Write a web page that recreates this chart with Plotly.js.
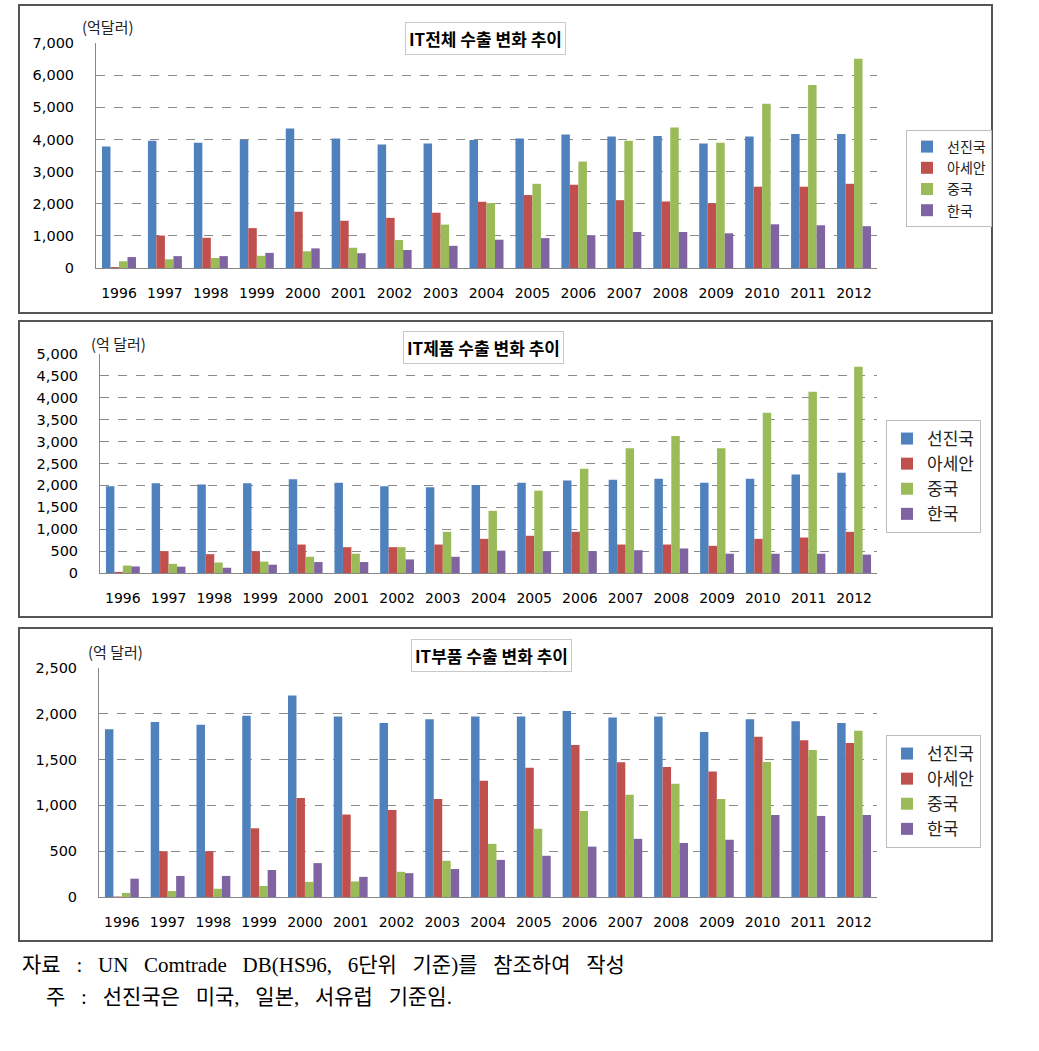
<!DOCTYPE html>
<html>
<head>
<meta charset="utf-8">
<script src="https://cdn.plot.ly/plotly-3.0.1.min.js"></script>
<style>html,body{margin:0;padding:0;background:#fff;}#chart{width:1039px;height:1051px;}</style>
</head>
<body>
<div id="chart"></div>
<script>
// ---- data ----
const years = ['1996','1997','1998','1999','2000','2001','2002','2003','2004','2005','2006','2007','2008','2009','2010','2011','2012'];
const seriesNames = ['선진국','아세안','중국','한국'];
const seriesColors = ['#4F81BD','#C0504D','#9BBB59','#8064A2'];

const totalAdvanced = [3780,3960,3900,3990,4340,4030,3840,3870,3980,4030,4150,4090,4110,3870,4090,4170,4170];
const totalAsean    = [30,1010,940,1240,1750,1470,1560,1720,2060,2270,2590,2110,2070,2010,2530,2530,2620];
const totalChina    = [210,270,310,380,520,630,870,1350,2020,2620,3310,3960,4370,3900,5110,5690,6510];
const totalKorea    = [340,370,370,470,610,460,560,690,880,930,1020,1120,1120,1080,1360,1330,1300];

const productAdvanced = [1980,2050,2020,2050,2140,2060,1980,1960,2010,2060,2110,2130,2150,2060,2150,2250,2290];
const productAsean    = [25,500,430,500,650,590,590,650,780,850,940,650,650,620,780,810,940];
const productChina    = [170,210,240,260,370,440,590,940,1420,1880,2380,2850,3130,2850,3660,4140,4710];
const productKorea    = [150,145,120,190,250,250,310,370,510,500,500,520,560,440,440,440,420];

const partAdvanced = [1830,1910,1880,1980,2200,1970,1900,1940,1970,1970,2030,1960,1970,1800,1940,1920,1900];
const partAsean    = [5,500,500,750,1080,900,950,1070,1270,1410,1660,1470,1420,1370,1750,1710,1680];
const partChina    = [45,65,90,120,165,170,275,395,580,745,940,1115,1235,1070,1475,1605,1815];
const partKorea    = [200,230,230,295,370,220,260,305,405,450,550,635,590,625,895,885,895];

const panelTitles = ['IT전체 수출 변화 추이','IT제품 수출 변화 추이','IT부품 수출 변화 추이'];
const unitLabels = ['(억달러)','(억 달러)','(억 달러)'];
const yRanges = [[0,7000],[0,5000],[0,2500]];
const yDticks = [1000,500,500];
const noteLines = ['자료 : UN Comtrade DB(HS96, 6단위 기준)를 참조하여 작성','주 : 선진국은 미국, 일본, 서유럽 기준임.'];

// ---- layout helpers (pixel -> paper) ----
const W = 1039, H = 1051;
const px = x => x / W;
const py = y => 1 - y / H;
const wide = s => s.split(' ').join('&nbsp;&nbsp;&nbsp;');

const panelData = [
  [totalAdvanced,totalAsean,totalChina,totalKorea],
  [productAdvanced,productAsean,productChina,productKorea],
  [partAdvanced,partAsean,partChina,partKorea]
];
const plotBoxes = [
  {l:96, r:877, t:43, b:268},
  {l:100, r:877, t:354, b:573},
  {l:99, r:877, t:668, b:897}
];
const frames = [
  {l:19, r:992, t:5, b:313},
  {l:19, r:992, t:321, b:617},
  {l:19, r:992, t:628, b:941}
];
const legendPos = [
  {x:906, y:130, size:14},
  {x:886, y:420, size:17},
  {x:886, y:735, size:17}
];
const titlePos = [{x:485,y:38},{x:483,y:347},{x:491,y:655}];
const unitPos = [{x:80,y:27},{x:89,y:343},{x:86,y:651}];

const tickFont = {family:'DejaVu Sans, Noto Sans CJK KR', size:14, color:'#000'};

const traces = [];
const layout = {
  width: W, height: H,
  margin: {l:0,r:0,t:0,b:0},
  paper_bgcolor: '#fff', plot_bgcolor: '#fff',
  barmode: 'group', bargap: 0.26, bargroupgap: 0,
  shapes: [], annotations: []
};

for (let p = 0; p < 3; p++) {
  const sfx = p === 0 ? '' : String(p + 1);
  const xa = 'x' + sfx, ya = 'y' + sfx, lg = 'legend' + sfx;
  for (let s = 0; s < 4; s++) {
    traces.push({
      type: 'bar', x: years, y: panelData[p][s], name: seriesNames[s],
      marker: {color: seriesColors[s], line: {width: 0}},
      xaxis: xa, yaxis: ya, legend: lg, hoverinfo: 'skip'
    });
  }
  const b = plotBoxes[p];
  layout['xaxis' + sfx] = {
    domain: [px(b.l), px(b.r)], anchor: ya, type: 'category',
    showline: true, linecolor: '#888', linewidth: 1,
    showgrid: false, ticks: '', tickfont: tickFont, ticklabelstandoff: 12,
    fixedrange: true
  };
  layout['yaxis' + sfx] = {
    domain: [py(b.b), py(b.t)], anchor: xa, range: yRanges[p], dtick: yDticks[p],
    tickformat: ',d', showline: true, linecolor: '#888', linewidth: 1,
    showgrid: true, gridcolor: '#8a8a8a', griddash: 'dash', gridwidth: 1,
    zeroline: false, ticks: '', tickfont: {family:'DejaVu Sans, Noto Sans CJK KR', size:14.5, color:'#000'},
    ticklabelstandoff: 18, fixedrange: true
  };
  const L = legendPos[p];
  layout[lg] = {
    x: px(L.x), y: py(L.y), xanchor: 'left', yanchor: 'top',
    xref: 'paper', yref: 'paper',
    bgcolor: '#fff', bordercolor: '#bdbdbd', borderwidth: 1,
    font: {family:'Noto Sans CJK KR', size: L.size, color:'#222'},
    traceorder: 'normal', itemclick: false, itemdoubleclick: false,
    itemwidth: 30
  };
  const f = frames[p];
  layout.shapes.push({
    type: 'rect', xref: 'paper', yref: 'paper',
    x0: px(f.l), x1: px(f.r), y0: py(f.b), y1: py(f.t),
    line: {color: '#555', width: 2}, fillcolor: 'rgba(0,0,0,0)', layer: 'below'
  });
  const T = titlePos[p];
  layout.annotations.push({
    xref: 'paper', yref: 'paper', x: px(T.x), y: py(T.y), xanchor: 'center', yanchor: 'middle',
    text: '<b>' + panelTitles[p] + '</b>', showarrow: false,
    font: {family:'Noto Sans CJK KR', size: 17, color:'#000'},
    bgcolor: '#fff', bordercolor: '#c8c8c8', borderwidth: 1, borderpad: 3
  });
  const U = unitPos[p];
  layout.annotations.push({
    xref: 'paper', yref: 'paper', x: px(U.x), y: py(U.y), xanchor: 'left', yanchor: 'middle',
    text: unitLabels[p], showarrow: false,
    font: {family:'Noto Sans CJK KR', size: 15, color:'#222'}
  });
}

layout.annotations.push({
  xref: 'paper', yref: 'paper', x: px(20), y: py(965), xanchor: 'left', yanchor: 'middle',
  text: wide(noteLines[0]), showarrow: false,
  font: {family:'Liberation Serif, Noto Sans CJK KR', size: 21, color:'#000'}
});
layout.annotations.push({
  xref: 'paper', yref: 'paper', x: px(44), y: py(997), xanchor: 'left', yanchor: 'middle',
  text: wide(noteLines[1]), showarrow: false,
  font: {family:'Liberation Serif, Noto Sans CJK KR', size: 21, color:'#000'}
});

Plotly.newPlot('chart', traces, layout, {displayModeBar: false, staticPlot: true});
</script>
</body>
</html>
